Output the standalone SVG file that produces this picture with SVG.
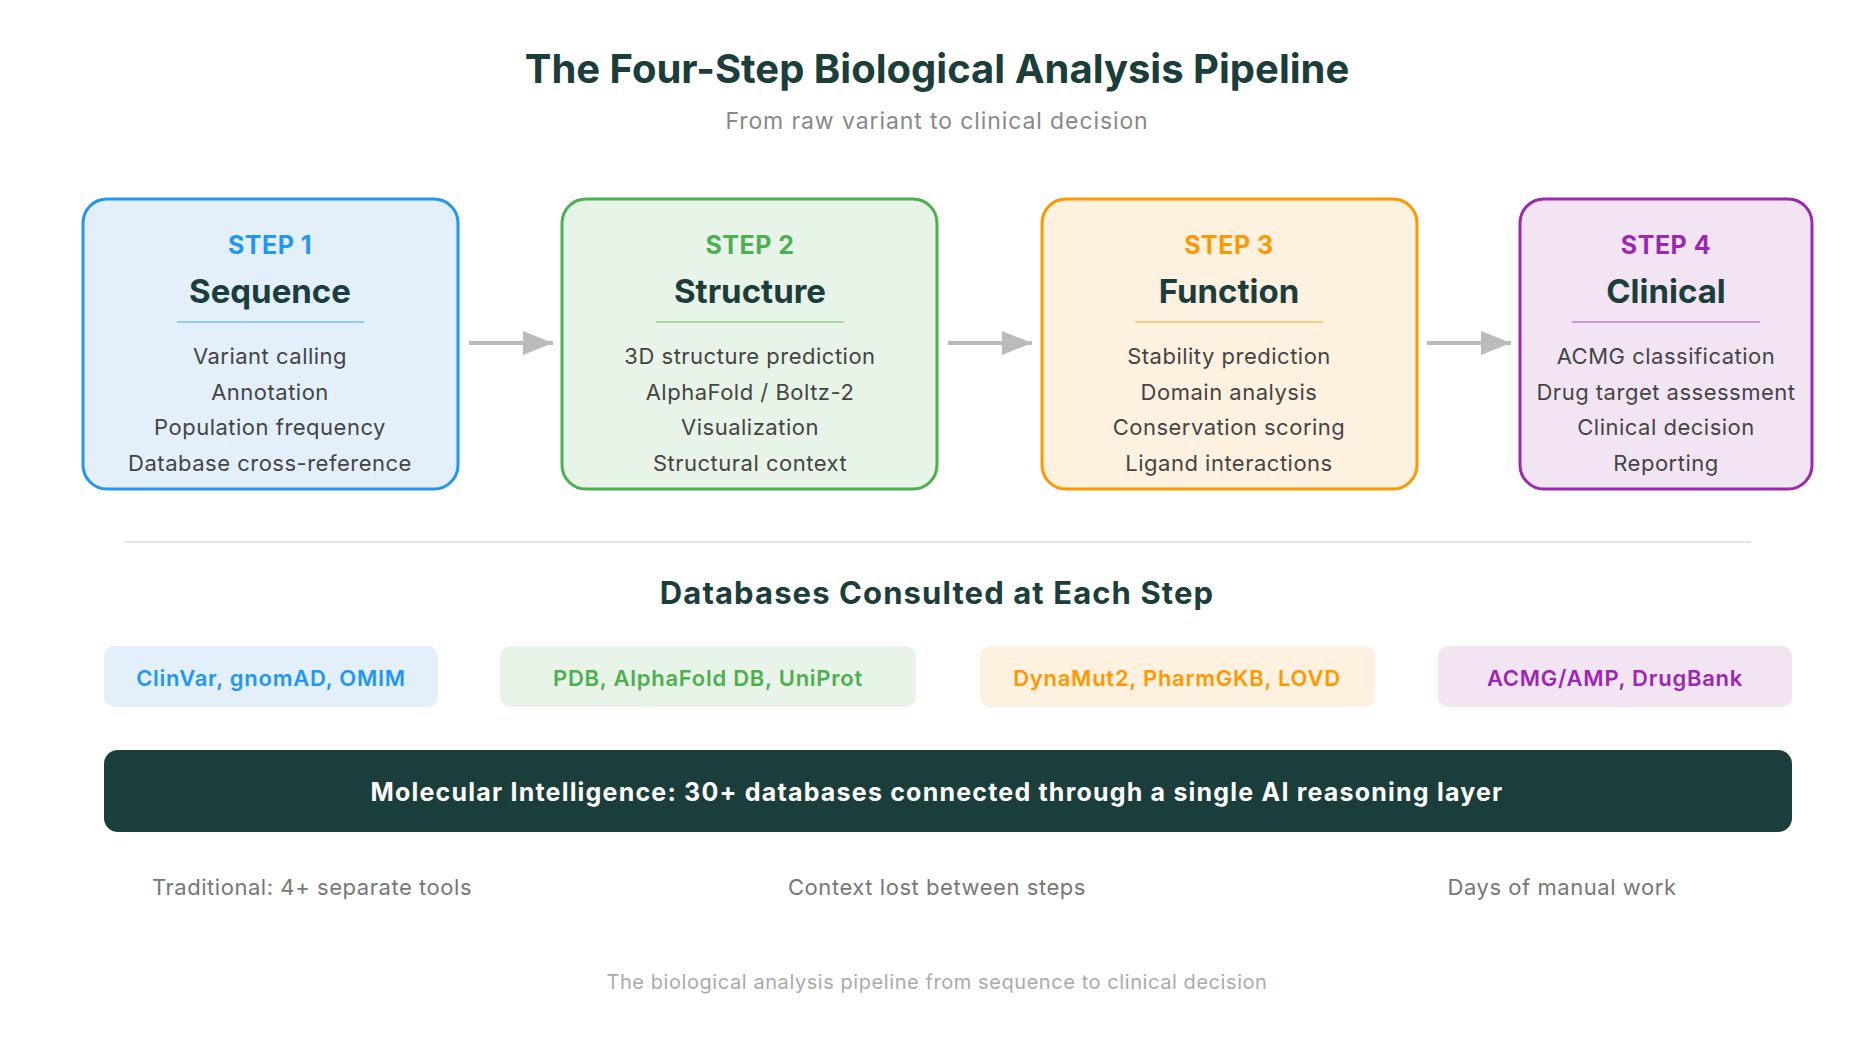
<svg xmlns="http://www.w3.org/2000/svg" width="1875" height="1042" viewBox="0 0 1875 1042">
<style>
text{font-family:Inter,"Noto Sans",sans-serif;text-anchor:middle;dominant-baseline:central}
.t{font-size:40px;font-weight:700;fill:#1b3d3b}
.sub{font-size:23px;fill:#888;letter-spacing:0.9px}
.step{font-size:25px;font-weight:700;letter-spacing:0.5px}
.h{font-size:33px;font-weight:700;fill:#1b3d3b}
.it{font-size:22px;fill:#444;letter-spacing:0.5px}
.sec{font-size:31px;font-weight:700;fill:#1b3d3b;letter-spacing:1.1px}
.pill{font-size:22px;font-weight:600;letter-spacing:0.75px}
.bar{font-size:25px;font-weight:700;fill:#fff;letter-spacing:1.2px}
.note{font-size:22px;fill:#777;letter-spacing:0.55px}
.cap{font-size:20px;fill:#aaa;letter-spacing:0.57px}
</style>
<defs>
<marker id="a" viewBox="0 0 30 24" refX="30" refY="12" markerWidth="30" markerHeight="24" markerUnits="userSpaceOnUse" orient="auto"><path d="M0,0 L30,12 L0,24z" fill="#bbb"/></marker></defs>
<text class="t" x="937" y="68">The Four-Step Biological Analysis Pipeline</text>
<text class="sub" x="937" y="121">From raw variant to clinical decision</text>
<g id="step1"><rect x="83" y="199" width="375" height="290" rx="24" fill="#e3f0fc" stroke="#2196f3" stroke-width="3"/>
<text class="step" x="270" y="245" fill="#2196f3">STEP 1</text><text class="h" x="270" y="291">Sequence</text>
<line x1="177" y1="322" x2="364" y2="322" stroke="#90caf9" stroke-width="2"/>
<text class="it" x="270" y="356">Variant calling</text><text class="it" x="270" y="392">Annotation</text><text class="it" x="270" y="427">Population frequency</text><text class="it" x="270" y="463">Database cross-reference</text></g>
<g id="step2"><rect x="562" y="199" width="375" height="290" rx="24" fill="#e7f4e7" stroke="#4caf50" stroke-width="3"/>
<text class="step" x="750" y="245" fill="#4caf50">STEP 2</text><text class="h" x="750" y="291">Structure</text>
<line x1="656" y1="322" x2="844" y2="322" stroke="#a5d6a7" stroke-width="2"/>
<text class="it" x="750" y="356">3D structure prediction</text><text class="it" x="750" y="392">AlphaFold / Boltz-2</text><text class="it" x="750" y="427">Visualization</text><text class="it" x="750" y="463">Structural context</text></g>
<g id="step3"><rect x="1042" y="199" width="375" height="290" rx="24" fill="#fff1df" stroke="#ff9800" stroke-width="3"/>
<text class="step" x="1229" y="245" fill="#ff9800">STEP 3</text><text class="h" x="1229" y="291">Function</text>
<line x1="1135" y1="322" x2="1323" y2="322" stroke="#ffcc80" stroke-width="2"/>
<text class="it" x="1229" y="356">Stability prediction</text><text class="it" x="1229" y="392">Domain analysis</text><text class="it" x="1229" y="427">Conservation scoring</text><text class="it" x="1229" y="463">Ligand interactions</text></g>
<g id="step4"><rect x="1520" y="199" width="292" height="290" rx="24" fill="#f3e4f4" stroke="#9c27b0" stroke-width="3"/>
<text class="step" x="1666" y="245" fill="#9c27b0">STEP 4</text><text class="h" x="1666" y="291">Clinical</text>
<line x1="1572" y1="322" x2="1760" y2="322" stroke="#ce93d8" stroke-width="2"/>
<text class="it" x="1666" y="356">ACMG classification</text><text class="it" x="1666" y="392">Drug target assessment</text><text class="it" x="1666" y="427">Clinical decision</text><text class="it" x="1666" y="463">Reporting</text></g>
<g id="connectors" stroke="#bbb" stroke-width="4">
<line x1="469" y1="343" x2="553" y2="343" marker-end="url(#a)"/>
<line x1="948" y1="343" x2="1032" y2="343" marker-end="url(#a)"/>
<line x1="1427" y1="343" x2="1511" y2="343" marker-end="url(#a)"/>
</g>
<line x1="124" y1="542" x2="1751" y2="542" stroke="#e6e6e6" stroke-width="2"/>
<text class="sec" x="937" y="592">Databases Consulted at Each Step</text>
<g id="db1"><rect x="104" y="646" width="334" height="61" rx="10" fill="#e3f0fc"/><text class="pill" x="271" y="678" fill="#2196f3">ClinVar, gnomAD, OMIM</text></g>
<g id="db2"><rect x="500" y="646" width="416" height="61" rx="10" fill="#e7f4e7"/><text class="pill" x="708" y="678" fill="#4caf50">PDB, AlphaFold DB, UniProt</text></g>
<g id="db3"><rect x="980" y="646" width="395" height="61" rx="10" fill="#fff1df"/><text class="pill" x="1177" y="678" fill="#ff9800">DynaMut2, PharmGKB, LOVD</text></g>
<g id="db4"><rect x="1438" y="646" width="354" height="61" rx="10" fill="#f3e4f4"/><text class="pill" x="1615" y="678" fill="#9c27b0">ACMG/AMP, DrugBank</text></g>
<g id="bar"><rect x="104" y="750" width="1688" height="82" rx="14" fill="#1b3d3b"/><text class="bar" x="937" y="792">Molecular Intelligence: 30+ databases connected through a single AI reasoning layer</text></g>
<text class="note" x="312" y="887">Traditional: 4+ separate tools</text>
<text class="note" x="937" y="887">Context lost between steps</text>
<text class="note" x="1562" y="887">Days of manual work</text>
<text class="cap" x="937" y="982">The biological analysis pipeline from sequence to clinical decision</text>
</svg>
